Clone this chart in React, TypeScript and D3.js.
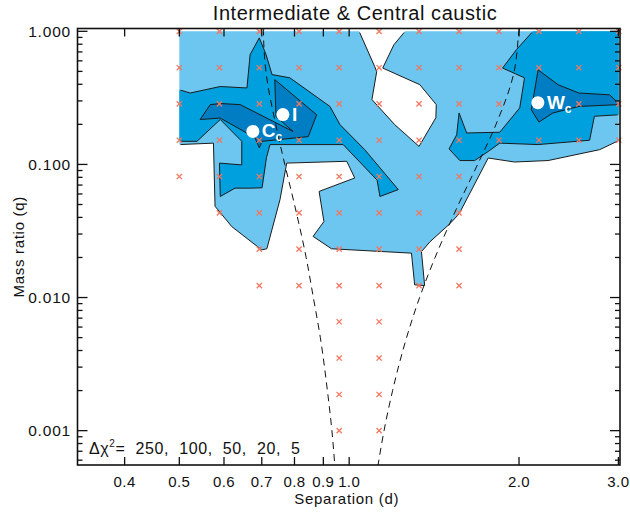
import React from 'react';
import * as d3 from 'd3';

const W = 630;
const H = 515;
const frame = { left: 77.5, right: 620, top: 28.5, bottom: 465 };

const title = 'Intermediate & Central caustic';
const xLabel = 'Separation (d)';
const yLabel = 'Mass ratio (q)';
const xDomain: [number, number] = [0.33, 3.02];
const yDomain: [number, number] = [0.000552, 1.05];

const xTicks = [0.4, 0.5, 0.6, 0.7, 0.8, 0.9, 1.0, 2.0, 3.0];
const xTickLabels = ['0.4', '0.5', '0.6', '0.7', '0.8', '0.9', '1.0', '2.0', '3.0'];
const yTicks = [0.001, 0.01, 0.1, 1];
const yTickLabels = ['0.001', '0.010', '0.100', '1.000'];

// model grid (separation d, mass ratio q)
const sepGrid = [0.5, 0.589, 0.693, 0.815, 0.96, 1.13, 1.33, 1.566, 1.843, 2.169, 2.553, 3.005];
const qGrid = [1, 0.533, 0.285, 0.152, 0.0811, 0.0433, 0.0231, 0.0123, 0.00658, 0.00351, 0.00187, 0.001];
// which grid columns were computed in each q row
const markerCols: number[][] = [
  [0, 1, 2, 3, 4, 5, 6, 7, 8, 9, 10, 11],
  [0, 1, 2, 3, 4, 5, 6, 7, 8, 9, 10, 11],
  [0, 1, 2, 3, 4, 5, 6, 7, 8, 9, 10, 11],
  [0, 1, 2, 3, 4, 5, 6, 7, 8, 9, 10, 11],
  [0, 1, 2, 3, 4, 5, 6, 7],
  [1, 2, 3, 4, 5, 6, 7],
  [2, 3, 4, 5, 6, 7],
  [2, 3, 4, 5, 6, 7],
  [4, 5],
  [4, 5],
  [4, 5],
  [4, 5],
];

// contour outlines, in grid units [column, row]
const contourL1: [number, number][] = [
  [0, 0], [4.5, 0], [4.89, 0.97], [4.94, 1.11], [4.82, 1.88], [5.39, 2.57], [6, 3.17], [6.42, 2.38],
  [6.43, 2.02], [6.02, 1.47], [5.09, 1.01], [5.37, 0.37], [5.65, 0], [11, 0], [11, 3.01], [10.52, 3.26],
  [9.23, 3.56], [8.39, 3.6], [7.73, 3.49], [7, 5.03], [6.77, 5.3], [6.27, 5.8], [6.06, 6.07], [6.14, 7.0],
  [5.89, 6.98], [5.81, 6.11], [3.81, 5.99], [3.35, 5.65], [3.62, 5.24], [3.5, 4.41], [4.39, 4.04],
  [4.19, 3.58], [2.69, 3.63], [2.52, 4.64], [2.19, 5.99], [2.06, 6.02], [1.31, 5.38], [0.89, 4.82],
  [0.85, 3.08], [0, 3.12],
];
const contourL2a: [number, number][] = [
  [0, 1.61], [0.27, 1.7], [1.02, 1.52], [1.69, 1.56], [1.77, 0.64], [2, 0.18], [2.17, 0.64], [2.32, 1.19],
  [2.77, 1.28], [3.77, 2.07], [4.02, 2.57], [4.64, 3.26], [5.48, 4.36], [5.02, 4.55], [4.95, 4.1],
  [4.1, 3.12], [2.27, 3.12], [2.18, 3.48], [2.07, 4.31], [1.77, 4.32], [1.39, 4.32], [1.02, 4.55],
  [1.0, 3.63], [1.56, 3.68], [1.56, 3.03], [1.02, 2.43], [0.44, 3.03], [0, 3.03],
];
const contourL2b: [number, number][] = [
  [8.85, 0], [11, 0], [11, 2.3], [10.39, 2.34], [10.27, 3.0], [8.98, 3.12], [8.02, 3.08], [7.73, 3.31],
  [7.39, 3.56], [7.02, 3.56], [6.75, 3.24], [6.94, 2.85], [7, 2.25], [7.19, 2.8], [8.02, 2.78],
  [8.52, 2.11], [8.64, 1.28], [8.09, 1.01], [8.44, 0.5],
];
const contourL3a: [number, number][] = [
  [0.52, 2.43], [0.77, 2.02], [1.02, 1.99], [1.52, 2.02], [2.85, 2.76], [2.42, 2.35], [2.39, 1.33],
  [3.44, 2.3], [3.23, 2.9], [2.07, 3.03], [2, 3.21], [1.89, 2.93], [1.02, 2.39],
];
const contourL3b: [number, number][] = [
  [8.98, 1.06], [9.48, 1.47], [10, 1.7], [10.77, 1.75], [11, 1.99], [11, 2.02], [10, 2.07], [9.35, 2.25],
  [9, 2.5], [8.81, 2.16],
];

// caustic topology boundaries
const causticQ = [1.05, 1, 0.5, 0.2, 0.1, 0.05, 0.02, 0.01, 0.005, 0.002, 0.001, 0.00055];
const closeD = [0.706, 0.705, 0.712, 0.741, 0.769, 0.8, 0.839, 0.864, 0.889, 0.915, 0.932, 0.943];
const wideD = [2.003, 2.0, 1.961, 1.821, 1.689, 1.562, 1.42, 1.333, 1.264, 1.194, 1.153, 1.125];

// best-fit solutions
const solNames = ['C', 'I', 'W'];
const solSubs = ['c', '', 'c'];
const solD = [0.675, 0.763, 2.16];
const solQ = [0.177, 0.237, 0.291];

const levelsText = '250,  100,  50,  20,  5';

const FONT = "'Liberation Sans', Arial, sans-serif";

function interpLog(grid: number[], g: number) {
  const i = Math.max(0, Math.min(Math.floor(g), grid.length - 2));
  const t = g - i;
  return Math.exp(Math.log(grid[i]) * (1 - t) + Math.log(grid[i + 1]) * t);
}

export default function App() {
  const x = d3.scaleLog().domain(xDomain).range([frame.left, frame.right]);
  const y = d3.scaleLog().domain(yDomain).range([frame.bottom, frame.top]);

  const gridLine = d3
    .line<[number, number]>()
    .x((p) => x(interpLog(sepGrid, p[0])))
    .y((p) => y(interpLog(qGrid, p[1])));
  const poly = (pts: [number, number][]) => (gridLine(pts) || '') + 'Z';

  const fills: { pts: [number, number][]; color: string }[] = [
    { pts: contourL1, color: '#6cc6ef' },
    { pts: contourL2a, color: '#00a0de' },
    { pts: contourL2b, color: '#00a0de' },
    { pts: contourL3a, color: '#007dc3' },
    { pts: contourL3b, color: '#007dc3' },
  ];

  const clipX0 = x(sepGrid[0]) + 1.2;
  const clipX1 = x(sepGrid[sepGrid.length - 1]) - 1.2;
  const clipY0 = y(qGrid[0]) + 1.2;
  const clipY1 = y(qGrid[qGrid.length - 1]) - 1.2;

  const causticLine = (ds: number[]) =>
    d3
      .line<number>()
      .x((_, i) => x(ds[i]))
      .y((q) => y(q))
      .curve(d3.curveMonotoneY)(causticQ.map((q) => q)) || '';

  // minor y ticks
  const yMinor: number[] = [];
  for (let e = -4; e <= 0; e++) {
    for (let m = 2; m <= 9; m++) {
      const v = m * Math.pow(10, e);
      if (v > yDomain[0] && v < yDomain[1]) yMinor.push(v);
    }
  }

  const markerSize = 2.6;

  return (
    <svg width={W} height={H} style={{ display: 'block', position: 'absolute', left: 0, top: 0 }}>
      <defs>
        <clipPath id="gridclip">
          <rect x={clipX0} y={clipY0} width={clipX1 - clipX0} height={clipY1 - clipY0} />
        </clipPath>
        <clipPath id="frameclip">
          <rect x={frame.left} y={frame.top} width={frame.right - frame.left} height={frame.bottom - frame.top} />
        </clipPath>
      </defs>
      <rect x={0} y={0} width={W} height={H} fill="#fff" />
      <g>
        {fills.map((f, i) => (
          <path key={'f' + i} d={poly(f.pts)} fill={f.color} stroke="none" />
        ))}
      </g>
      <g clipPath="url(#gridclip)">
        {fills.map((f, i) => (
          <path key={'s' + i} d={poly(f.pts)} fill="none" stroke="#1b1b1b" strokeWidth={1} strokeLinejoin="round" />
        ))}
      </g>
      <g clipPath="url(#frameclip)">
        <path d={causticLine(closeD)} fill="none" stroke="#111" strokeWidth={1} strokeDasharray="7,5" />
        <path d={causticLine(wideD)} fill="none" stroke="#111" strokeWidth={1} strokeDasharray="7,5" />
      </g>
      <g stroke="#f07860" strokeWidth={1.3}>
        {markerCols.map((cols, r) =>
          cols.map((c) => {
            const cx = x(sepGrid[c]);
            const cy = y(qGrid[r]);
            return (
              <g key={`m${r}-${c}`}>
                <line x1={cx - markerSize} y1={cy - markerSize} x2={cx + markerSize} y2={cy + markerSize} />
                <line x1={cx - markerSize} y1={cy + markerSize} x2={cx + markerSize} y2={cy - markerSize} />
              </g>
            );
          })
        )}
      </g>
      <g>
        {solNames.map((n, i) => {
          const cx = x(solD[i]);
          const cy = y(solQ[i]);
          return (
            <g key={'sol' + i}>
              <circle cx={cx} cy={cy} r={6.5} fill="#fff" />
              <text x={cx + 9} y={cy + 6} fill="#fff" fontFamily={FONT} fontSize={19} fontWeight={600}>
                {n}
                {solSubs[i] ? (
                  <tspan dy={4} fontSize={12}>
                    {solSubs[i]}
                  </tspan>
                ) : null}
              </text>
            </g>
          );
        })}
      </g>
      {/* frame */}
      <rect
        x={frame.left}
        y={frame.top}
        width={frame.right - frame.left}
        height={frame.bottom - frame.top}
        fill="none"
        stroke="#111"
        strokeWidth={1.6}
      />
      {/* ticks */}
      <g stroke="#111" strokeWidth={1.3}>
        {xTicks.map((t) => (
          <g key={'xt' + t}>
            <line x1={x(t)} x2={x(t)} y1={frame.bottom} y2={frame.bottom - 8} />
            <line x1={x(t)} x2={x(t)} y1={frame.top} y2={frame.top + 8} />
          </g>
        ))}
        {yTicks.map((t) => (
          <g key={'yt' + t}>
            <line x1={frame.left} x2={frame.left + 10} y1={y(t)} y2={y(t)} />
            <line x1={frame.right} x2={frame.right - 10} y1={y(t)} y2={y(t)} />
          </g>
        ))}
        {yMinor.map((t) => (
          <g key={'ym' + t}>
            <line x1={frame.left} x2={frame.left + 5} y1={y(t)} y2={y(t)} />
            <line x1={frame.right} x2={frame.right - 5} y1={y(t)} y2={y(t)} />
          </g>
        ))}
      </g>
      <g fontFamily={FONT} fontSize={15} fill="#111" letterSpacing={0.4}>
        {xTicks.map((t, i) => (
          <text key={'xl' + t} x={x(t)} y={487} textAnchor="middle">
            {xTickLabels[i]}
          </text>
        ))}
        {yTicks.map((t, i) => (
          <text key={'yl' + t} x={71} y={y(t) + 5.5} textAnchor="end" fontSize={15.5} letterSpacing={0.8}>
            {yTickLabels[i]}
          </text>
        ))}
        <text x={(frame.left + frame.right) / 2 - 2} y={504} textAnchor="middle" letterSpacing={0.7}>
          {xLabel}
        </text>
        <text
          transform={`translate(24, ${(frame.top + frame.bottom) / 2}) rotate(-90)`}
          textAnchor="middle"
          letterSpacing={0.7}
        >
          {yLabel}
        </text>
        <text x={89} y={454} fontSize={16} letterSpacing={0.6} style={{ whiteSpace: 'pre' }}>
          {'\u0394\u03c7'}
          <tspan dy={-7} fontSize={10}>
            2
          </tspan>
          <tspan dy={7} style={{ whiteSpace: 'pre' }}>{'=  ' + levelsText}</tspan>
        </text>
      </g>
      <text
        x={355}
        y={20}
        textAnchor="middle"
        fontFamily={FONT}
        fontSize={20}
        letterSpacing={0.55}
        fill="#111"
      >
        {title}
      </text>
    </svg>
  );
}
